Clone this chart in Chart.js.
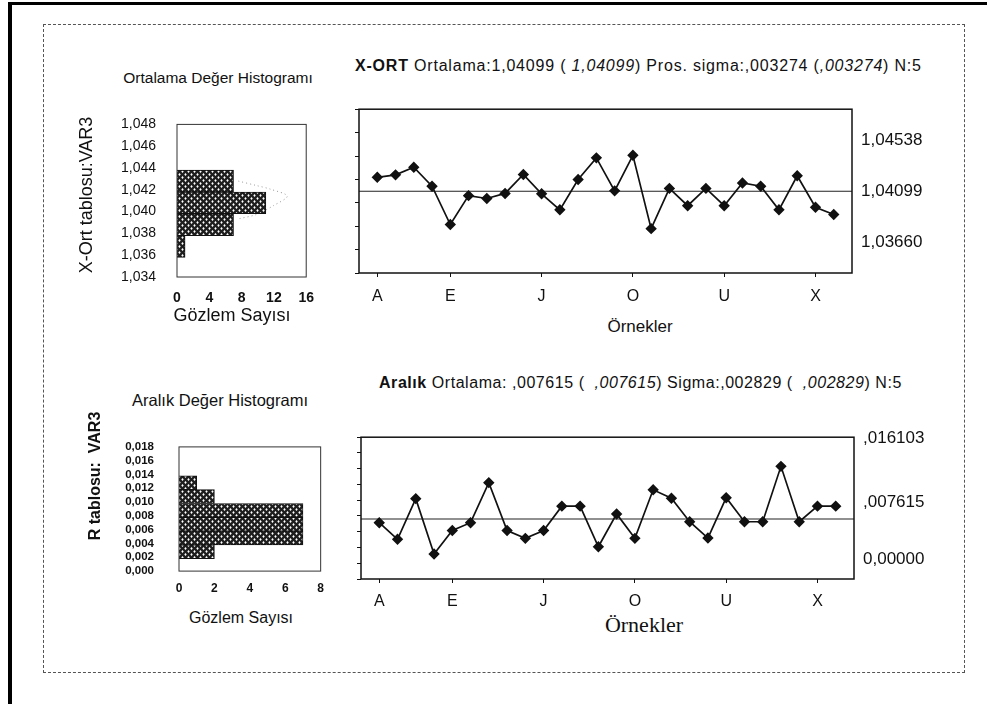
<!DOCTYPE html>
<html lang="tr">
<head>
<meta charset="utf-8">
<title>X-Ort ve R kontrol grafikleri</title>
<script src="https://cdn.jsdelivr.net/npm/chart.js@4.4.1/dist/chart.umd.min.js"></script>
<style>
  body { margin: 0; background: #fff; font-family: "Liberation Sans", Arial, sans-serif; color: #111; }
  #page { position: relative; width: 987px; height: 704px; overflow: hidden; background: #fff; }
  #edge { position: absolute; left: 8px; top: 2px; width: 990px; height: 720px; border-top: 3px solid #000; border-left: 4px solid #000; }
  #frame { position: absolute; left: 43px; top: 24px; width: 920px; height: 647px; border: 1px dashed #555; }
  canvas { position: absolute; }
  .txt { position: absolute; white-space: nowrap; transform: translate(-50%, -50%); line-height: 1; }
  .left { position: absolute; white-space: nowrap; transform: translateY(-50%); line-height: 1; }
  .rot { transform: translate(-50%, -50%) rotate(-90deg); }
</style>
</head>
<body>
<div id="page">
  <div id="edge"></div>
  <div id="frame"></div>

  <canvas id="xbarHist" width="287" height="217" style="left:40px;top:95px"></canvas>
  <canvas id="xbarChart" width="620" height="215" style="left:330px;top:90px"></canvas>
  <canvas id="rangeHist" width="294" height="188" style="left:40px;top:415px"></canvas>
  <canvas id="rangeChart" width="620" height="193" style="left:330px;top:418px"></canvas>

  <div class="txt" style="left:218px;top:78px;font-size:15.5px">Ortalama Değer Histogramı</div>
  <div class="left" style="left:355px;top:66px;font-size:16px;letter-spacing:0.8px"><b>X-ORT</b> Ortalama:1,04099 ( <i>1,04099</i>) Pros. sigma:,003274 (<i>,003274</i>) N:5</div>
  <div class="txt rot" style="left:86px;top:195px;font-size:18px">X-Ort tablosu:VAR3</div>
  <div class="txt" style="left:232px;top:315px;font-size:18px">Gözlem Sayısı</div>
  <div class="txt" style="left:640px;top:326px;font-size:17px">Örnekler</div>

  <div class="txt" style="left:220px;top:400px;font-size:16.5px">Aralık Değer Histogramı</div>
  <div class="left" style="left:379px;top:383px;font-size:16px;letter-spacing:0.55px"><b>Aralık</b> Ortalama: ,007615 ( &nbsp;<i>,007615</i>) Sigma:,002829 ( &nbsp;<i>,002829</i>) N:5</div>
  <div class="txt rot" style="left:95px;top:476px;font-size:16px;font-weight:bold">R tablosu:&nbsp; VAR3</div>
  <div class="txt" style="left:241px;top:618px;font-size:16px">Gözlem Sayısı</div>
  <div class="txt" style="left:644px;top:625px;font-size:22px;font-family:'Liberation Serif','Times New Roman',serif">Örnekler</div>
</div>

<script>
// örnek numaraları ve eksende yazan harfler
const sampleNo = [1, 2, 3, 4, 5, 6, 7, 8, 9, 10, 11, 12, 13, 14, 15, 16, 17, 18, 19, 20, 21, 22, 23, 24, 25, 26];
const sampleTickPos = [1, 5, 10, 15, 20, 25];
const sampleTickLabels = ['A', 'E', 'J', 'O', 'U', 'X'];

// X-Ort (örnek ortalamaları)
const xbarValues = [1.04218, 1.04239, 1.04304, 1.04142, 1.03814, 1.04061, 1.04037, 1.04080, 1.04242, 1.04077,
  1.03940, 1.04199, 1.04384, 1.04102, 1.04406, 1.03779, 1.04123, 1.03975, 1.04123, 1.03975,
  1.04169, 1.04142, 1.03940, 1.04231, 1.03962, 1.03900];
const xbarMean = 1.04099;
const xbarLimits = [1.03660, 1.04099, 1.04538];
const xbarLimitLabels = ['1,03660', '1,04099', '1,04538'];

// R (aralık)
const rangeValues = [0.00715, 0.00504, 0.01020, 0.00317, 0.00615, 0.00715, 0.01223, 0.00615, 0.00516, 0.00615,
  0.00925, 0.00925, 0.00409, 0.00826, 0.00516, 0.01132, 0.01025, 0.00727, 0.00520, 0.01032,
  0.00727, 0.00727, 0.01430, 0.00727, 0.00925, 0.00925];
const rangeMean = 0.007615;
const rangeLimits = [0, 0.007615, 0.016103];
const rangeLimitLabels = ['0,00000', ',007615', ',016103'];

// histogramlar
const xbarBinMid = [1.0368, 1.0388, 1.0408, 1.0428];
const xbarBinCount = [1, 7, 11, 7];
const xbarCurveY = [1.04280, 1.04239, 1.04205, 1.04142, 1.04055, 1.03974, 1.03933];
const xbarCurveCount = [7.6, 9.85, 11.6, 13.65, 11.95, 9.85, 7.6];
const rangeBinMid = [0.0028, 0.0048, 0.0068, 0.0088, 0.0108, 0.0128];
const rangeBinCount = [2, 7, 7, 7, 2, 1];

const ink = '#111';
const sans = '"Liberation Sans", Arial, sans-serif';

// kafes desenli dolgu
function makeHatch() {
  const c = document.createElement('canvas');
  c.width = 6;
  c.height = 6;
  const g = c.getContext('2d');
  g.fillStyle = '#1e1e1e';
  g.fillRect(0, 0, 6, 6);
  g.fillStyle = '#fff';
  [[1.5, 1.5], [4.5, 4.5]].forEach(([cx, cy]) => {
    g.beginPath();
    g.moveTo(cx, cy - 1.5);
    g.lineTo(cx + 1.2, cy);
    g.lineTo(cx, cy + 1.5);
    g.lineTo(cx - 1.2, cy);
    g.closePath();
    g.fill();
  });
  return g.createPattern(c, 'repeat');
}
const hatch = makeHatch();

function framePlugin(color, width) {
  return {
    id: 'frame',
    afterDraw(chart) {
      const { left, top, right, bottom } = chart.chartArea;
      const ctx = chart.ctx;
      ctx.save();
      ctx.strokeStyle = color;
      ctx.lineWidth = width;
      ctx.strokeRect(left, top, right - left, bottom - top);
      ctx.restore();
    }
  };
}

const comma = (v, d) => v.toFixed(d).replace('.', ',');

function histogram(id, mids, counts, opts) {
  const datasets = [{
    type: 'bar',
    data: mids.map((m, i) => ({ y: m, x: counts[i] })),
    backgroundColor: hatch,
    borderColor: ink,
    borderWidth: 1,
    barPercentage: 1,
    categoryPercentage: 1
  }];
  if (opts.curveY) {
    datasets.push({
      type: 'line',
      indexAxis: 'y',
      data: opts.curveY.map((v, i) => ({ y: v, x: opts.curveCount[i] })),
      borderColor: '#999',
      borderWidth: 1,
      borderDash: [1, 3],
      pointRadius: 0,
      tension: 0.3
    });
  }
  return new Chart(document.getElementById(id), {
    type: 'bar',
    data: { datasets },
    options: {
      indexAxis: 'y',
      responsive: false,
      animation: false,
      layout: { padding: { top: 10, right: 10 } },
      plugins: { legend: { display: false }, tooltip: { enabled: false } },
      scales: {
        x: {
          type: 'linear',
          min: 0,
          max: opts.xMax,
          ticks: { stepSize: opts.xStep, color: ink, padding: opts.xPad, font: opts.xFont, maxRotation: 0 },
          grid: { display: false, drawTicks: false },
          border: { display: false },
          afterFit: s => { s.height = opts.xHeight; }
        },
        y: {
          type: 'linear',
          offset: false,
          min: opts.yMin,
          max: opts.yMax,
          ticks: { stepSize: 0.002, color: ink, padding: opts.yPad, font: opts.yFont, callback: v => opts.yFmt(v) },
          grid: { display: false, drawTicks: false, offset: false },
          border: { display: false },
          afterFit: s => { s.width = opts.yWidth; }
        }
      }
    },
    plugins: [framePlugin('#333', 1)]
  });
}

function controlChart(id, values, mean, limits, limitLabels, opts) {
  return new Chart(document.getElementById(id), {
    type: 'line',
    data: {
      datasets: [{
        data: sampleNo.map((n, i) => ({ x: n, y: values[i] })),
        borderColor: ink,
        borderWidth: 1.7,
        pointStyle: 'rectRot',
        pointRadius: 4.5,
        pointBackgroundColor: ink,
        pointBorderColor: ink,
        tension: 0
      }, {
        data: [{ x: 0, y: mean }, { x: 27, y: mean }],
        borderColor: '#222',
        borderWidth: 1.1,
        pointRadius: 0
      }]
    },
    options: {
      responsive: false,
      animation: false,
      layout: { padding: { top: 9 } },
      plugins: { legend: { display: false }, tooltip: { enabled: false } },
      scales: {
        x: {
          type: 'linear',
          min: 0,
          max: 27,
          afterBuildTicks: s => { s.ticks = sampleTickPos.map(v => ({ value: v })); },
          ticks: {
            autoSkip: false,
            maxRotation: 0,
            color: ink,
            padding: opts.xPad,
            font: { family: sans, size: 16 },
            callback: (v, i) => sampleTickLabels[i]
          },
          grid: { drawOnChartArea: false, tickLength: 4, color: ink },
          border: { display: false },
          afterFit: s => { s.height = 32; }
        },
        y: {
          type: 'linear',
          min: opts.yMin,
          max: opts.yMax,
          ticks: { display: false, stepSize: 0.002 },
          grid: { drawOnChartArea: false, tickLength: 4, color: ink },
          border: { display: false },
          afterFit: s => { s.width = opts.leftWidth; }
        },
        y2: {
          type: 'linear',
          position: 'right',
          display: true,
          min: opts.rMin,
          max: opts.rMax,
          afterBuildTicks: s => { s.ticks = limits.map(v => ({ value: v })); },
          ticks: {
            color: ink,
            padding: 9,
            font: { family: sans, size: 17 },
            callback: (v, i) => limitLabels[i]
          },
          grid: { drawOnChartArea: false, drawTicks: false },
          border: { display: false },
          afterFit: s => { s.width = opts.rightWidth; }
        }
      }
    },
    plugins: [framePlugin(ink, 1.5)]
  });
}

histogram('xbarHist', xbarBinMid, xbarBinCount, {
  xMax: 16, xStep: 4, xPad: 13, xHeight: 35,
  xFont: { family: sans, size: 14, weight: 'bold' },
  yMin: 1.034, yMax: 1.048, yPad: 21, yWidth: 137,
  yFont: { family: sans, size: 14 },
  yFmt: v => comma(v, 3),
  curveY: xbarCurveY, curveCount: xbarCurveCount
});

histogram('rangeHist', rangeBinMid, rangeBinCount, {
  xMax: 8, xStep: 2, xPad: 10, xHeight: 30,
  xFont: { family: sans, size: 12, weight: 'bold' },
  yMin: 0, yMax: 0.018, yPad: 25, yWidth: 139,
  yFont: { family: sans, size: 11.5, weight: 'bold' },
  yFmt: v => comma(v, 3)
});

controlChart('xbarChart', xbarValues, xbarMean, xbarLimits, xbarLimitLabels, {
  yMin: 1.034, yMax: 1.048, rMin: 1.034, rMax: 1.048,
  leftWidth: 29, rightWidth: 98, xPad: 10
});

controlChart('rangeChart', rangeValues, rangeMean, rangeLimits, rangeLimitLabels, {
  yMin: 0, yMax: 0.018, rMin: -0.00258, rMax: 0.016226,
  leftWidth: 31, rightWidth: 96, xPad: 9
});
</script>
</body>
</html>
